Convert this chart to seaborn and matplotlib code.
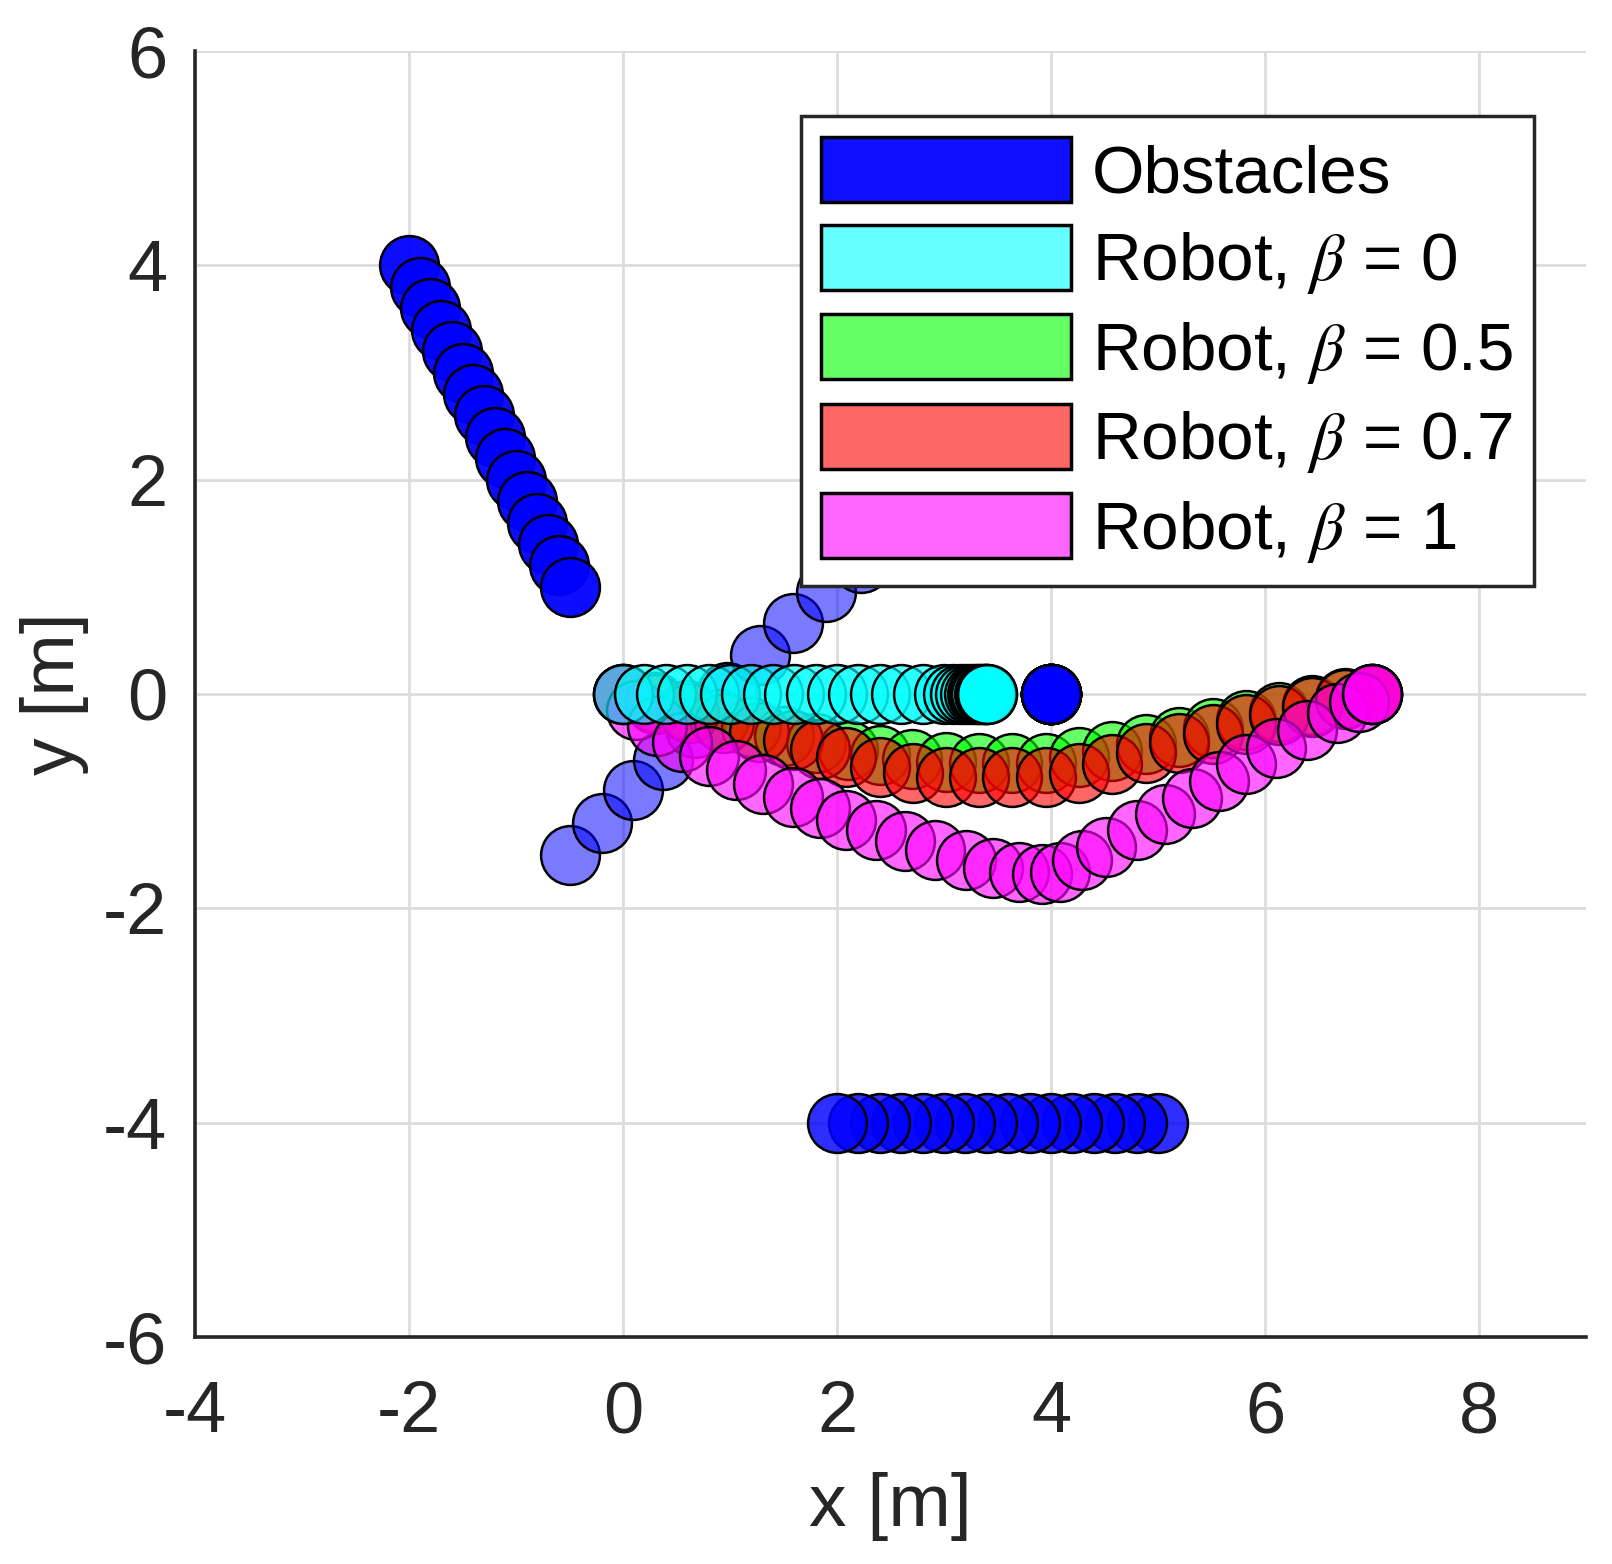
import matplotlib
matplotlib.use("Agg")
import matplotlib.pyplot as plt
from matplotlib.patches import Patch
import seaborn as sns

# ---------------- data ----------------
# obstacle 1 (moving diagonally, upper left)
obs1_x = [-2.0, -1.9, -1.8, -1.7, -1.6, -1.5, -1.4, -1.3, -1.2, -1.1, -1.0, -0.9, -0.8, -0.7, -0.6, -0.5]
obs1_y = [4.0, 3.8, 3.6, 3.4, 3.2, 3.0, 2.8, 2.6, 2.4, 2.2, 2.0, 1.8, 1.6, 1.4, 1.2, 1.0]
# obstacle 2 (moving horizontally at y = -4)
obs2_x = [5.0, 4.8, 4.6, 4.4, 4.2, 4.0, 3.8, 3.6, 3.4, 3.2, 3.0, 2.8, 2.6, 2.4, 2.2, 2.0]
obs2_y = [-4.0, -4.0, -4.0, -4.0, -4.0, -4.0, -4.0, -4.0, -4.0, -4.0, -4.0, -4.0, -4.0, -4.0, -4.0, -4.0]
# obstacle 3 (crossing diagonally, semi transparent)
obs3_x = [-0.5, -0.2, 0.09, 0.37, 0.67, 0.97, 1.28, 1.59, 1.9, 2.22, 2.5, 2.8, 3.1, 3.4, 3.7, 4.0]
obs3_y = [-1.5, -1.2, -0.9, -0.62, -0.32, 0.02, 0.36, 0.66, 0.95, 1.22, 1.5, 1.8, 2.1, 2.4, 2.7, 3.0]
# obstacle 4 (static)
obs4_x = [4.0, 4.0, 4.0, 4.0, 4.0, 4.0, 4.0, 4.0, 4.0, 4.0, 4.0, 4.0, 4.0, 4.0, 4.0, 4.0]
obs4_y = [0.0, 0.0, 0.0, 0.0, 0.0, 0.0, 0.0, 0.0, 0.0, 0.0, 0.0, 0.0, 0.0, 0.0, 0.0, 0.0]

# robot, beta = 0
rb0_x = [0.0, 0.2, 0.4, 0.6, 0.8, 1.0, 1.2, 1.4, 1.6, 1.8, 2.0, 2.2, 2.4, 2.6, 2.8,
         3.0, 3.08, 3.15, 3.2, 3.24, 3.28, 3.31, 3.33, 3.35, 3.37, 3.38, 3.39, 3.4, 3.4]
rb0_y = [0.0] * len(rb0_x)
# robot, beta = 0.5
rb05_x = [0.0, 0.30, 0.60, 0.90, 1.20, 1.50, 1.80, 2.10, 2.40, 2.70, 3.02, 3.33, 3.64,
          3.95, 4.26, 4.57, 4.89, 5.20, 5.51, 5.82, 6.13, 6.44, 6.75, 7.0, 7.0]
rb05_y = [0.0, -0.07, -0.15, -0.23, -0.31, -0.39, -0.46, -0.52, -0.57, -0.61, -0.63, -0.64, -0.64,
          -0.64, -0.59, -0.53, -0.47, -0.40, -0.32, -0.24, -0.17, -0.10, -0.04, 0.0, 0.0]
# robot, beta = 0.7
rb07_x = [0.0, 0.30, 0.62, 0.94, 1.27, 1.59, 1.84, 2.08, 2.40, 2.71, 3.02, 3.33, 3.64,
          3.95, 4.26, 4.57, 4.89, 5.20, 5.51, 5.82, 6.13, 6.44, 6.75, 7.0, 7.0]
rb07_y = [0.0, -0.09, -0.18, -0.27, -0.35, -0.43, -0.51, -0.59, -0.68, -0.74, -0.77, -0.77, -0.77,
          -0.77, -0.74, -0.65, -0.55, -0.46, -0.37, -0.28, -0.20, -0.12, -0.05, 0.0, 0.0]
# robot, beta = 1
rb1_x = [0.0, 0.12, 0.32, 0.55, 0.80, 1.06, 1.31, 1.59, 1.84, 2.08, 2.36, 2.64, 2.92, 3.21, 3.46,
         3.70, 3.92, 4.08, 4.29, 4.51, 4.80, 5.07, 5.32, 5.57, 5.82, 6.10, 6.39, 6.67, 6.88, 7.0, 7.0]
rb1_y = [0.0, -0.15, -0.30, -0.45, -0.58, -0.71, -0.84, -0.96, -1.06, -1.18, -1.27, -1.37, -1.46, -1.55, -1.62,
         -1.66, -1.68, -1.66, -1.55, -1.43, -1.27, -1.12, -0.97, -0.81, -0.65, -0.50, -0.34, -0.18, -0.07, 0.0, 0.0]

legend_labels = ["Obstacles", r"Robot, $\beta$ = 0", r"Robot, $\beta$ = 0.5$\,$",
                 r"Robot, $\beta$ = 0.7$\,$", r"Robot, $\beta$ = 1"]
x_ticks = [-4, -2, 0, 2, 4, 6, 8]
y_ticks = [-6, -4, -2, 0, 2, 4, 6]

# ---------------- style ----------------
sns.set_style("white")
plt.rcParams['font.family'] = ['Liberation Sans', 'DejaVu Sans']
plt.rcParams['mathtext.fontset'] = 'stix'
plt.rcParams['axes.unicode_minus'] = False

W, H, DPI = 1612, 1564, 100
fig = plt.figure(figsize=(W / DPI, H / DPI), dpi=DPI)
L, R, T, B = 195, 1586, 51, 1337
ax = fig.add_axes([L / W, 1 - B / H, (R - L) / W, (B - T) / H])
ax.set_xlim(-4, 9)
ax.set_ylim(-6, 6)

# marker size from data units (diameter ~0.55 m)
px_per_unit = ax.transData.transform((1, 0))[0] - ax.transData.transform((0, 0))[0]
diam_pt = 0.55 * px_per_unit * 72 / DPI
S = diam_pt ** 2
LW = 1.8

def circles(xs, ys, rgba, z):
    sns.scatterplot(x=xs, y=ys, color=rgba, edgecolor='black', linewidth=LW,
                    s=S, ax=ax, legend=False, zorder=z)

circles(obs3_x, obs3_y, (0, 0, 1, 0.52), 2)
circles(obs1_x, obs1_y, (0, 0, 1, 0.95), 2)
circles(obs2_x, obs2_y, (0, 0, 1, 0.82), 2)
circles(obs4_x, obs4_y, (0, 0, 1, 0.95), 2)
circles(rb05_x, rb05_y, (0, 1, 0, 0.6), 3)
circles(rb07_x, rb07_y, (1, 0, 0, 0.6), 4)
circles(rb1_x, rb1_y, (1, 0, 1, 0.6), 5)
circles(rb0_x, rb0_y, (0, 1, 1, 0.6), 6)

# axes styling (MATLAB-like)
ax.set_xticks(x_ticks)
ax.set_yticks(y_ticks)
ax.grid(True, color='#dcdcdc', linewidth=2)
ax.set_axisbelow(True)
for side in ['top', 'right']:
    ax.spines[side].set_visible(False)
for side in ['left', 'bottom']:
    ax.spines[side].set_color('#262626')
    ax.spines[side].set_linewidth(2.6)
ax.tick_params(direction='in', length=10, width=2, labelsize=52,
               colors='#262626', top=False, right=False)
ax.tick_params(axis='x', pad=31)
ax.tick_params(axis='y', pad=20)
ax.set_xlabel('x [m]', fontsize=54, color='#262626', labelpad=18)
ax.set_ylabel('y [m]', fontsize=54, color='#262626', labelpad=10)

fcols = [(0, 0, 1, 0.94), (0, 1, 1, 0.6), (0, 1, 0, 0.6), (1, 0, 0, 0.6), (1, 0, 1, 0.6)]
handles = [Patch(facecolor=c, edgecolor='black', linewidth=2.5, label=l)
           for c, l in zip(fcols, legend_labels)]
leg = ax.legend(handles=handles, loc='upper right',
                bbox_to_anchor=((1534 - L) / (R - L), (B - 116) / (B - T)),
                borderaxespad=0, fontsize=48.5, fancybox=False, framealpha=1,
                edgecolor='#262626', handlelength=3.7, handleheight=1.11,
                handletextpad=0.32, labelspacing=0.27, borderpad=0.31,
                labelcolor='black')
leg.get_frame().set_linewidth(2.5)
leg.set_zorder(10)

fig.savefig('out.png', dpi=DPI)
